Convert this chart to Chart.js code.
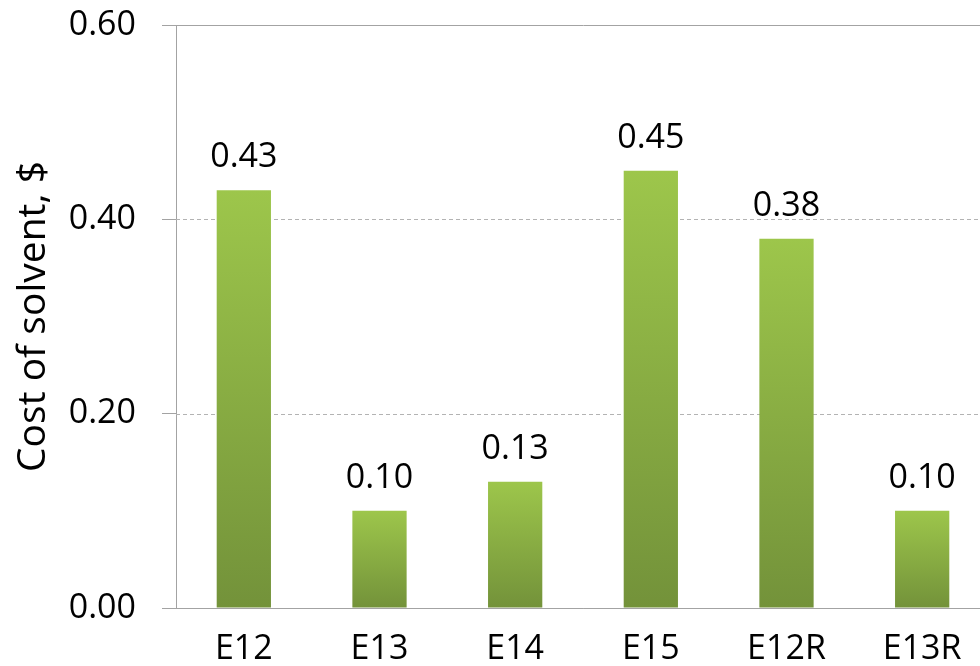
<!DOCTYPE html>
<html>
<head>
<meta charset="utf-8">
<script src="https://cdn.jsdelivr.net/npm/chart.js@4"></script>
<style>
  html, body { margin: 0; padding: 0; background: #ffffff; overflow: hidden; }
  #wrap { width: 1000px; height: 666px; }
</style>
</head>
<body>
<div id="wrap"><canvas id="c" width="1000" height="666"></canvas></div>
<script>
// Solvent cost per run
const categories = ['E12', 'E13', 'E14', 'E15', 'E12R', 'E13R'];
const solventCost = [0.43, 0.10, 0.13, 0.45, 0.38, 0.10];
const yTicks = [0.00, 0.20, 0.40, 0.60];
const yTitle = 'Cost of solvent, $';

const FONT = '"Open Sans", "Noto Sans", sans-serif';
const FONT_SIZE = 34;
const TITLE_SIZE = 39;
const AXIS_GREY = '#a3a3a3';
const DASH_GREY = '#b3b3b3';
const BAR_TOP = '#9dc64b';
const BAR_BOTTOM = '#73923a';

// Each bar gets its own vertical gradient, light at the top, darker at the base
function barGradient(context) {
  const chart = context.chart;
  const yScale = chart.scales && chart.scales.y;
  if (!chart.chartArea || !yScale || context.dataIndex === undefined) return BAR_TOP;
  const v = context.dataset.data[context.dataIndex];
  const top = yScale.getPixelForValue(v);
  const base = yScale.getPixelForValue(0);
  const g = chart.ctx.createLinearGradient(0, top, 0, base);
  g.addColorStop(0, BAR_TOP);
  g.addColorStop(1, BAR_BOTTOM);
  return g;
}

// Dashed gridlines for the inner ticks
const dashedGrid = {
  id: 'dashedGrid',
  beforeDatasetsDraw(chart) {
    const { ctx, chartArea } = chart;
    const y = chart.scales.y;
    ctx.save();
    ctx.strokeStyle = DASH_GREY;
    ctx.lineWidth = 1;
    ctx.setLineDash([4, 3]);
    yTicks.forEach(v => {
      if (v <= y.min || v >= y.max) return;
      const py = Math.round(y.getPixelForValue(v)) + 0.5;
      ctx.beginPath();
      ctx.moveTo(chartArea.left, py);
      ctx.lineTo(chartArea.right, py);
      ctx.stroke();
    });
    ctx.restore();
  }
};

// Value labels above each bar
const valueLabels = {
  id: 'valueLabels',
  afterDatasetsDraw(chart) {
    const { ctx } = chart;
    const meta = chart.getDatasetMeta(0);
    ctx.save();
    ctx.font = FONT_SIZE + 'px ' + FONT;
    ctx.fillStyle = '#000000';
    ctx.textAlign = 'center';
    ctx.textBaseline = 'alphabetic';
    meta.data.forEach((bar, i) => {
      ctx.fillText(solventCost[i].toFixed(2), bar.x, bar.y - 23);
    });
    ctx.restore();
  }
};

function draw() {
  new Chart(document.getElementById('c'), {
    type: 'bar',
    data: {
      labels: categories,
      datasets: [{
        data: solventCost,
        backgroundColor: barGradient,
        borderWidth: 0,
        barPercentage: 0.4,
        categoryPercentage: 1.0
      }]
    },
    options: {
      responsive: false,
      devicePixelRatio: 1,
      animation: false,
      layout: { padding: { top: 25, right: 10, bottom: 0, left: 0 } },
      plugins: {
        legend: { display: false },
        tooltip: { enabled: false }
      },
      scales: {
        x: {
          grid: { display: false, drawTicks: false },
          border: { display: true, color: AXIS_GREY, width: 1 },
          ticks: {
            color: '#000000',
            font: { family: FONT, size: FONT_SIZE },
            padding: 21,
            maxRotation: 0,
            autoSkip: false
          },
          afterFit(scale) {
            scale.height = 58;
            scale.paddingLeft = 0;
            scale.paddingRight = 0;
          }
        },
        y: {
          min: 0,
          max: 0.6,
          afterBuildTicks(scale) {
            scale.ticks = yTicks.map(v => ({ value: v }));
          },
          grid: {
            color(ctx) {
              const v = ctx.tick ? ctx.tick.value : null;
              return (v === yTicks[0] || v === yTicks[yTicks.length - 1]) ? AXIS_GREY : 'rgba(0,0,0,0)';
            },
            tickColor: AXIS_GREY,
            tickLength: 14,
            lineWidth: 1
          },
          border: { display: true, color: AXIS_GREY, width: 1 },
          ticks: {
            color: '#000000',
            font: { family: FONT, size: FONT_SIZE },
            padding: 26,
            callback: v => Number(v).toFixed(2)
          },
          title: {
            display: true,
            text: yTitle,
            color: '#000000',
            font: { family: FONT, size: TITLE_SIZE },
            padding: { top: 10, bottom: 0 }
          },
          afterFit(scale) {
            scale.width = 176;
            scale.paddingTop = 0;
            scale.paddingBottom = 0;
          }
        }
      }
    },
    plugins: [dashedGrid, valueLabels]
  });
}

if (document.fonts && document.fonts.load) {
  document.fonts.load(FONT_SIZE + 'px "Open Sans"').then(draw, draw);
} else {
  draw();
}
</script>
</body>
</html>
